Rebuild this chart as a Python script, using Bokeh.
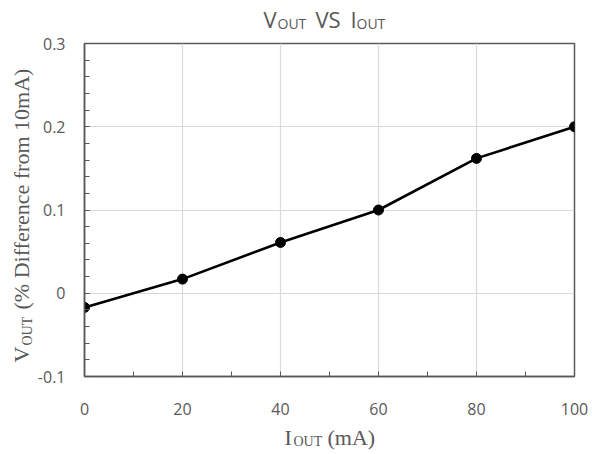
import math
from bokeh.plotting import figure
from bokeh.models import FixedTicker, Label, Range1d
from bokeh.layouts import column, row
from bokeh.embed import file_html
from bokeh.resources import INLINE

# Data
iout_ma = [0, 20, 40, 60, 80, 100]
vout_pct = [-0.017, 0.017, 0.061, 0.100, 0.162, 0.200]

x_ticks = [0, 20, 40, 60, 80, 100]
x_minor = [10, 30, 50, 70, 90]
y_ticks = [-0.1, 0, 0.1, 0.2, 0.3]
y_tick_labels = ["-0.1", "0", "0.1", "0.2", "0.3"]

GRAY = "#595959"
PAGE_W = 592
TITLE_H = 32
XLAB_H = 30
YLAB_W = 34
BT, BB = 11, 48            # main plot top / bottom borders
MAIN_H = BT + 333 + BB
MAIN_W = PAGE_W - YLAB_W

# ---------------- main plot ----------------
p = figure(width=MAIN_W, height=MAIN_H, output_backend="svg", toolbar_location=None,
           title_location=None,
           x_range=Range1d(0, 100), y_range=Range1d(-0.1, 0.3),
           min_border_left=50, min_border_right=18, min_border_top=BT, min_border_bottom=BB)
p.background_fill_color = "white"
p.border_fill_color = "white"
p.outline_line_color = GRAY
p.outline_line_width = 1.5

for ax in (p.xaxis[0], p.yaxis[0]):
    ax.axis_line_color = GRAY
    ax.axis_line_width = 1.5
    ax.major_tick_line_color = GRAY
    ax.minor_tick_line_color = GRAY
    ax.major_tick_in = 5
    ax.major_tick_out = 0
    ax.minor_tick_in = 5
    ax.minor_tick_out = 0
    ax.major_label_text_font = "Open Sans"
    ax.major_label_text_font_size = "16px"
    ax.major_label_text_color = GRAY

p.xaxis[0].ticker = FixedTicker(ticks=x_ticks, minor_ticks=x_minor)
p.xaxis[0].major_label_standoff = 26
p.yaxis[0].ticker = FixedTicker(ticks=y_ticks,
                                minor_ticks=[round(-0.1 + 0.02 * i, 2) for i in range(21)])
p.yaxis[0].major_label_overrides = {t: s for t, s in zip(y_ticks, y_tick_labels)}
p.yaxis[0].major_label_standoff = 19

p.xgrid.ticker = FixedTicker(ticks=x_ticks)
p.ygrid.ticker = FixedTicker(ticks=y_ticks)
p.xgrid.grid_line_color = "#d9d9d9"
p.ygrid.grid_line_color = "#d9d9d9"
p.xgrid.grid_line_width = 1.2
p.ygrid.grid_line_width = 1.2

p.line(iout_ma, vout_pct, line_color="black", line_width=2.6)
p.scatter(iout_ma, vout_pct, size=10, fill_color="black", line_color="black")


# ---------------- text panels ----------------
def text_panel(w, h, top=0, bottom=0):
    f = figure(width=w, height=h, output_backend="svg", toolbar_location=None,
               title_location=None, x_axis_location=None, y_axis_location=None,
               x_range=Range1d(0, w), y_range=Range1d(0, h - top - bottom),
               min_border=0, min_border_left=0, min_border_right=0,
               min_border_top=top, min_border_bottom=bottom)
    f.grid.visible = False
    f.outline_line_color = None
    f.background_fill_color = "white"
    f.border_fill_color = "white"
    return f


def add(f, text, x, y, size, font, angle=0.0):
    # (x, y) = wanted baseline start; compensate the renderer's baseline shift
    px = int(size.replace("px", ""))
    off = 0.34 * px
    if angle:
        x = x - off
    else:
        y = y + off
    f.add_layout(Label(x=x, y=y, text=text, text_font=font, text_font_size=size,
                       text_color=GRAY, text_align="left",
                       text_baseline="alphabetic", angle=angle))


# Title: V_OUT VS  I_OUT   (y measured up from the panel bottom)
t = text_panel(PAGE_W, TITLE_H)
add(t, "V", 263, 6.5, "22px", "Open Sans")
add(t, "OUT", 277, 4.5, "14px", "Open Sans")
add(t, "VS", 315, 6.5, "22px", "Open Sans")
add(t, "I", 350, 6.5, "22px", "Open Sans")
add(t, "OUT", 356, 4.5, "14px", "Open Sans")

# y axis label (rotated): V_OUT (% Difference from 10mA)
yl = text_panel(YLAB_W, MAIN_H, top=BT, bottom=BB)
add(yl, "V", 28.5, 14, "22px", "Liberation Serif", math.pi / 2)
add(yl, "OUT", 31.5, 31, "14px", "Liberation Serif", math.pi / 2)
add(yl, "(% Difference from 10mA)", 28.5, 67, "22px", "Liberation Serif", math.pi / 2)

# x axis label: I_OUT (mA)
xl = text_panel(PAGE_W, XLAB_H)
add(xl, "I", 284, 10, "22px", "Liberation Serif")
add(xl, "OUT", 293, 8, "14px", "Liberation Serif")
add(xl, "(mA)", 327, 10, "22px", "Liberation Serif")

layout = column(t, row(yl, p, spacing=0), xl, spacing=0)

open("out.html", "w").write(file_html(layout, INLINE))
